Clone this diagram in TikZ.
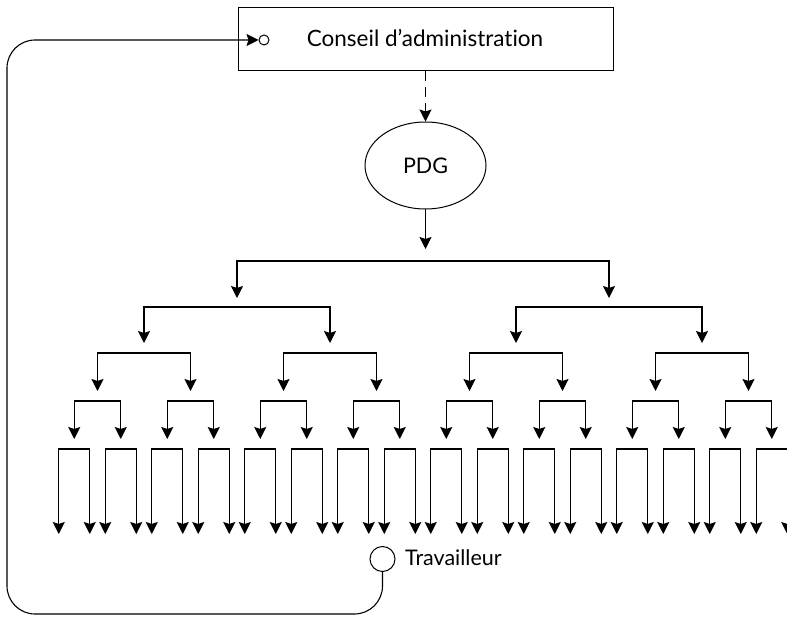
\documentclass[tikz,border=0pt]{standalone}
\usepackage{fontspec}
\setmainfont{Lato}[Ligatures=NoCommon]
\usetikzlibrary{arrows.meta,shapes.geometric}

\tikzset{
  >={Stealth[length=12pt,width=12pt,inset=2pt]},
  link/.style={line width=1.1pt, line join=miter},
  label/.style={font=\fontsize{21.5}{25}\selectfont, inner sep=0pt},
  board/.style={draw, line width=1pt, minimum width=375pt, minimum height=63pt, inner sep=0pt},
  chief/.style={draw, ellipse, line width=1pt, minimum width=121pt, minimum height=87pt, inner sep=0pt},
  port/.style={draw, circle, line width=1pt, inner sep=0pt},
}

\begin{document}
\begin{tikzpicture}[x=1pt, y=-1pt]
  \useasboundingbox (0,0) rectangle (787,617);

  % board and chief executive
  \node[board] (ca) at (425.5,39.5) {};
  \node[label, font=\fontsize{22.5}{26}\selectfont] (catext) at (425,38) {Conseil d’administration};
  \node[port, minimum size=10pt] (caport) at (264,40) {};
  \node[chief, label] (pdg) at (425.5,165.5) {PDG};
  \draw[link, ->, dash pattern=on 10pt off 6pt] (ca.south -| pdg.north) -- (pdg.north);
  \coordinate (pdgtip) at (425.5,249);
  \draw[link, ->] (pdg.south) -- (pdgtip);

  % five levels of the hierarchy: level/count/spacing/half width/bar y/tip y
  \foreach \L/\n/\s/\h/\y/\t in {1/1/0/186/261/298, 2/2/372/93/307/343,
      3/4/186/46.5/353/391, 4/8/93/23.25/401/439, 5/16/46.5/15.5/449/534} {
    \foreach \i in {1,...,\n} {
      \pgfmathsetmacro\cx{423+(\i-(\n+1)/2)*\s}
      \coordinate (bl-\L-\i) at (\cx-\h,\y);
      \coordinate (br-\L-\i) at (\cx+\h,\y);
      \coordinate (tl-\L-\i) at (\cx-\h,\t);
      \coordinate (tr-\L-\i) at (\cx+\h,\t);
      \draw[link, <->] (tl-\L-\i) -- (bl-\L-\i) -- (br-\L-\i) -- (tr-\L-\i);
    }
  }

  % worker and feedback loop to the board
  \node[port, minimum size=25pt] (trav) at (382.5,559) {};
  \node[label, anchor=west] (travtext) at (405,558) {Travailleur};
  \coordinate (loopbl) at (7,614);
  \coordinate (looptl) at (7,40);
  \draw[link, ->, rounded corners=28pt] (trav.south) |- (loopbl) -- (looptl) -- (caport.west);
\end{tikzpicture}
\end{document}
